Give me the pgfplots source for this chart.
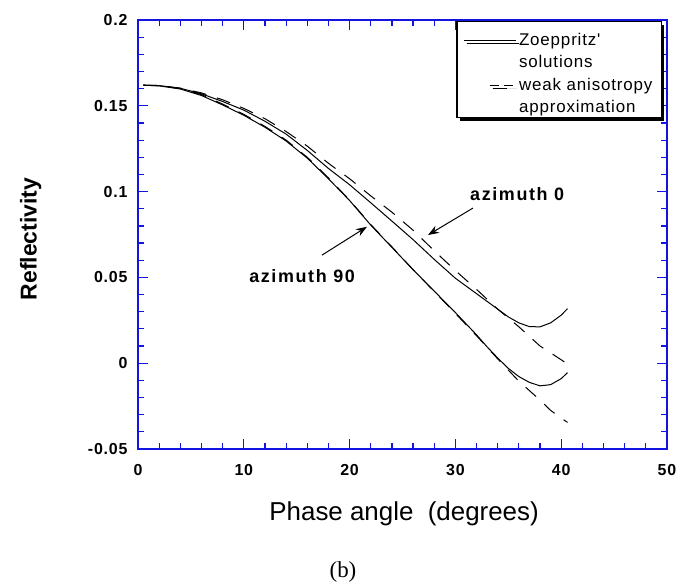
\documentclass[border=0pt]{standalone}
\usepackage{fontspec}
\setmainfont{Liberation Sans}
\newfontfamily\wsans[LetterSpace=5]{Liberation Sans}
\newfontfamily\asans[LetterSpace=9]{Liberation Sans}
\newfontfamily\tsans[LetterSpace=5]{Liberation Sans}
\newfontfamily\serifb{Liberation Serif}
\usepackage{pgfplots}
\pgfplotsset{compat=1.18}
\usetikzlibrary{arrows.meta,shadows}
\definecolor{axblue}{RGB}{20,20,225}
\pgfplotsset{
  solidleg/.style={legend image code/.code={\draw[##1] (0bp,5bp) -- (52bp,5bp);}},
  dashleg/.style={legend image code/.code={\draw[##1, dash pattern=on 9bp off 5bp] (26bp,5bp) -- (50bp,5bp);}},
}

\pgfplotstableread{
x y
0.5 0.1620
2 0.1618
4 0.1602
6 0.1570
8 0.1525
10 0.1475
12 0.1410
14 0.1335
16 0.1240
18 0.1135
20 0.1040
22 0.0935
24 0.0828
26 0.0720
28 0.0605
30 0.0495
32 0.0405
34 0.0315
35 0.0270
36 0.0235
37 0.0213
38 0.0212
39 0.0235
40 0.0280
40.6 0.0318
}\zoezero

\pgfplotstableread{
x y
0.5 0.1620
2 0.1616
4 0.1598
6 0.1560
8 0.1505
10 0.1445
12 0.1375
14 0.1295
16 0.1195
18 0.1075
20 0.0948
22 0.0805
24 0.0675
26 0.0545
28 0.0420
30 0.0295
32 0.0165
33 0.0095
34 0.0030
35 -0.0030
36 -0.0078
37 -0.0112
38 -0.0132
39 -0.0125
40 -0.0090
40.6 -0.0055
}\zoeninety

\pgfplotstableread{
x y
0.5 0.1620
2 0.1618
4 0.1603
6 0.1575
8 0.1535
10 0.1485
12 0.1425
14 0.1350
16 0.1265
18 0.1165
20 0.1075
22 0.0975
24 0.0880
26 0.0775
28 0.0655
30 0.0540
32 0.0430
34 0.0315
36 0.0212
38 0.0100
40 0.0020
40.6 -0.0005
}\weakzero

\pgfplotstableread{
x y
0.5 0.1620
2 0.1617
4 0.1600
6 0.1565
8 0.1510
10 0.1450
12 0.1380
14 0.1300
16 0.1200
18 0.1080
20 0.0950
22 0.0808
24 0.0678
26 0.0545
28 0.0418
30 0.0290
32 0.0160
34 0.0025
36 -0.0105
37 -0.0160
38 -0.0215
39 -0.0275
40 -0.0320
40.6 -0.0345
}\weakninety

\begin{document}
\begin{tikzpicture}
\begin{axis}[
  name=ax, at={(0,0)}, anchor=south west,
  width=529bp, height=429bp, scale only axis,
  xmin=0, xmax=50, ymin=-0.05, ymax=0.2,
  xtick={0,10,20,30,40,50}, minor x tick num=4,
  ytick={-0.05,0,0.05,0.1,0.15,0.2},
  yticklabels={-0.05,0,0.05,0.1,0.15,0.2},
  minor y tick num=4,
  scaled y ticks=false,
  /pgf/number format/assume math mode=true,
  tick align=inside,
  major tick length=10bp, minor tick length=6bp,
  axis line style={axblue, line width=1.3bp},
  tick style={axblue, line width=1.2bp},
  xticklabel style={font=\tsans\bfseries\fontsize{16}{16}\selectfont, yshift=-12bp},
  yticklabel style={font=\tsans\bfseries\fontsize{16}{16}\selectfont, xshift=-7bp},
  xlabel={Phase angle\ \ (degrees)},
  xlabel style={at={(axis description cs:0.503,-0.150)}, anchor=center, font=\fontsize{26}{26}\selectfont},
  ylabel={Reflectivity},
  ylabel style={at={(axis description cs:-0.203,0.4895)}, anchor=center, rotate=0, font=\bfseries\fontsize{23}{23}\selectfont},
  legend style={at={(rel axis cs:1,1)}, anchor=north east, xshift=-5bp, yshift=-1bp,
    draw=black, line width=1.2bp, fill=white, inner xsep=6bp, inner ysep=1bp,
    drop shadow={shadow xshift=3bp, shadow yshift=-3bp, fill=black, opacity=1},
    font=\wsans\fontsize{17}{22}\selectfont, row sep=-4bp,
    cells={anchor=base west},
    nodes={inner xsep=3bp, inner ysep=1bp, text height=22bp, text depth=25bp}},
]
\addplot[black, line width=1bp, solidleg] table[x=x,y=y] {\zoezero};
\addlegendentry{\begin{tabular}[t]{@{}l@{}}Zoeppritz\symbol{39}\\solutions\end{tabular}}
\addplot[black, line width=1bp, dash pattern=on 14bp off 11bp, dashleg] table[x=x,y=y] {\weakzero};
\addlegendentry{\begin{tabular}[t]{@{}l@{}}weak anisotropy\\approximation\end{tabular}}
\addplot[black, line width=1bp, forget plot] table[x=x,y=y] {\zoeninety};
\addplot[black, line width=1bp, dash pattern=on 14bp off 11bp, forget plot] table[x=x,y=y] {\weakninety};
\node[anchor=base west, inner sep=0pt, font=\asans\bfseries\fontsize{18}{18}\selectfont] at (axis cs:31.38,0.0951) {azimuth 0};
\node[anchor=base west, inner sep=0pt, font=\asans\bfseries\fontsize{18}{18}\selectfont] at (axis cs:10.5,0.0473) {azimuth 90};
\draw[black, line width=1bp, -{Stealth[length=11bp,width=8bp]}] (axis cs:31.66,0.0904) -- (axis cs:27.41,0.0747);
\draw[black, line width=1bp, -{Stealth[length=11bp,width=8bp]}] (axis cs:17.39,0.0630) -- (axis cs:21.64,0.0795);
\end{axis}
\node[font=\serifb\fontsize{23}{23}\selectfont] at ([shift={(205bp,-123bp)}]ax.south west) {(b)};
\pgfresetboundingbox
\path (ax.south west) ++(-138bp,-137bp) rectangle ++(680bp,586bp);
\end{tikzpicture}
\end{document}
